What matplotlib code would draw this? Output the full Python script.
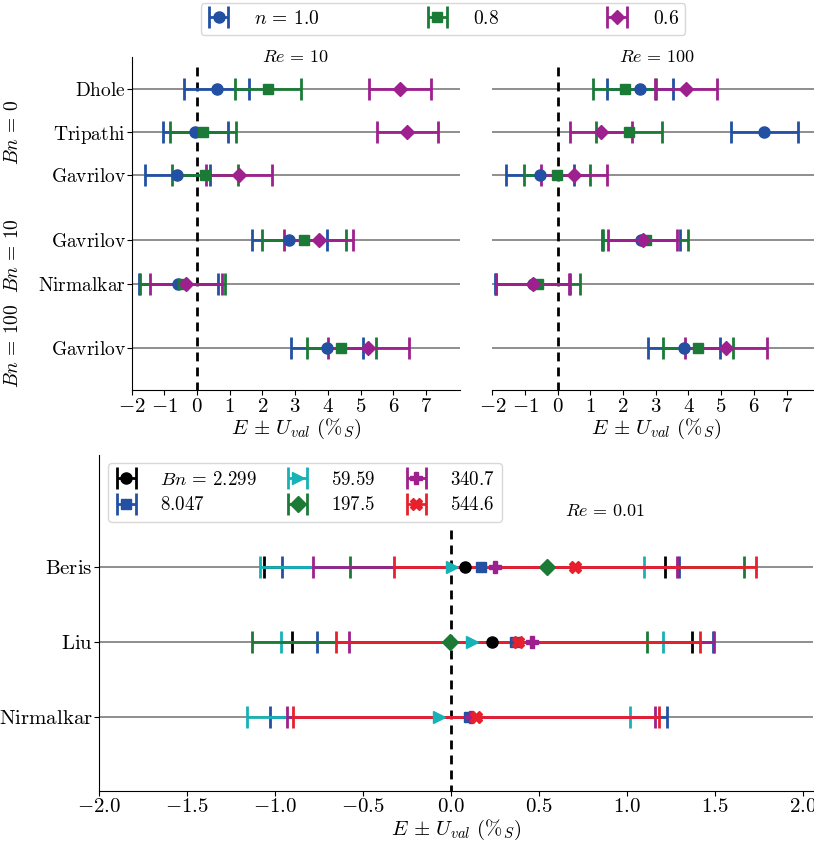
import numpy as np
import matplotlib
matplotlib.use("Agg")
import matplotlib.pyplot as plt
from matplotlib.ticker import FuncFormatter
import matplotlib.transforms as mtrans

plt.rcParams['font.family'] = 'serif'
plt.rcParams['font.serif'] = ['cmr10']
plt.rcParams['mathtext.fontset'] = 'cm'
plt.rcParams['axes.formatter.use_mathtext'] = True
plt.rcParams['axes.unicode_minus'] = True

# ---------------- data: top panels ----------------
top_labels = ['Dhole', 'Tripathi', 'Gavrilov', 'Gavrilov', 'Nirmalkar', 'Gavrilov']
bn_groups = [r'$Bn\,=\,0$', r'$Bn\,=\,10$', r'$Bn\,=\,100$']
n_labels = [r'$n\,=\,1.0$', '$0.8$', '$0.6$']

re10_n10_E = [0.60, -0.05, -0.60, 2.82, -0.57, 3.96]
re10_n10_U = [1.00, 1.00, 1.00, 1.15, 1.21, 1.10]
re10_n08_E = [2.17, 0.18, 0.24, 3.26, -0.44, 4.41]
re10_n08_U = [1.00, 1.01, 1.01, 1.28, 1.30, 1.06]
re10_n06_E = [6.21, 6.43, 1.28, 3.72, -0.33, 5.24]
re10_n06_U = [0.94, 0.94, 1.00, 1.06, 1.10, 1.25]

re100_n10_E = [2.51, 6.32, -0.54, 2.54, -0.77, 3.86]
re100_n10_U = [1.01, 1.02, 1.03, 1.19, 1.16, 1.10]
re100_n08_E = [2.05, 2.17, -0.03, 2.70, -0.60, 4.28]
re100_n08_U = [0.97, 1.01, 1.01, 1.30, 1.28, 1.07]
re100_n06_E = [3.93, 1.32, 0.50, 2.60, -0.77, 5.14]
re100_n06_U = [0.94, 0.94, 1.00, 1.05, 1.13, 1.25]

# ---------------- data: bottom panel ----------------
bot_labels = ['Beris', 'Liu', 'Nirmalkar']
bn_labels = [r'$Bn\,=\,2.299$', '$8.047$', '$59.59$', '$197.5$', '$340.7$', '$544.6$']
bn2299_E = [0.078, 0.234, np.nan]
bn2299_U = [1.138, 1.137, np.nan]
bn8047_E = [0.168, 0.363, 0.100]
bn8047_U = [1.128, 1.124, 1.130]
bn5959_E = [0.005, 0.120, -0.070]
bn5959_U = [1.090, 1.084, 1.089]
bn1975_E = [0.545, -0.008, np.nan]
bn1975_U = [1.120, 1.124, np.nan]
bn3407_E = [0.250, 0.458, 0.112]
bn3407_U = [1.035, 1.037, 1.045]
bn5446_E = [0.705, 0.380, 0.143]
bn5446_U = [1.030, 1.035, 1.039]

# ---------------- styles ----------------
BLUE = '#2350a3'
GREEN = '#1b7a36'
MAG = '#9e1f8e'
CYAN = '#17b2b6'
RED = '#e8202b'
BLACK = '#000000'

top_pos = [0, 1, 2, 3.5, 4.5, 6]
bot_pos = [0, 1, 2]

XLABEL = r'$E\,\pm\,U_{val}\ (\%_S)$'
YLFS = 14.0

fig = plt.figure(figsize=(8.14, 8.42), dpi=100)
W, H = 814.0, 842.0

def px_axes(x0, y0, x1, y1):
    return fig.add_axes([x0 / W, 1 - y1 / H, (x1 - x0) / W, (y1 - y0) / H])

ax1 = px_axes(131.7, 56.7, 460.3, 390)
ax2 = px_axes(492.3, 56.7, 820.9, 390)
ax3 = px_axes(99.0, 455, 813.5, 790.7)

def draw_top(ax, series, title):
    for y in top_pos:
        ax.axhline(y, color='#707070', lw=1.1, zorder=0)
    ax.plot([0, 0], [-0.5, 7.5], color='black', lw=2, dashes=(3.2, 2.2), zorder=1)
    handles = []
    for (E, U, color, marker, ms), lab in zip(series, n_labels):
        h = ax.errorbar(E, top_pos, xerr=U, color=color, ecolor=color,
                        fmt=marker, label=lab, zorder=3,
                        linestyle='none', elinewidth=2.0, capsize=8,
                        capthick=2.0, markersize=ms)
        handles.append(h)
    ax.set_xlim(-2, 8.05)
    ax.set_ylim(6.96, -0.74)
    ax.set_xticks(range(-2, 8))
    ax.xaxis.set_major_formatter(FuncFormatter(lambda v, p: r'$%d$' % v if v >= 0 else r'$-%d$' % (-v)))
    ax.spines['top'].set_visible(False)
    ax.spines['right'].set_visible(False)
    ax.tick_params(labelsize=15, length=3.5, pad=2)
    ax.set_xlabel(XLABEL, fontsize=15, labelpad=1)
    ax.text(0.5, 1.0, title, transform=ax.transAxes, ha='center', va='center',
            fontsize=13)
    return handles

top_style = [(BLUE, 'o', 8), (GREEN, 's', 7.5), (MAG, 'D', 7.5)]
s1 = [(re10_n10_E, re10_n10_U) + top_style[0],
      (re10_n08_E, re10_n08_U) + top_style[1],
      (re10_n06_E, re10_n06_U) + top_style[2]]
s2 = [(re100_n10_E, re100_n10_U) + top_style[0],
      (re100_n08_E, re100_n08_U) + top_style[1],
      (re100_n06_E, re100_n06_U) + top_style[2]]

hs = draw_top(ax1, s1, r'$Re\,=\,10$')
draw_top(ax2, s2, r'$Re\,=\,100$')

ax1.set_yticks(top_pos)
ax1.set_yticklabels([r'$\mathrm{%s}$' % t for t in top_labels], fontsize=YLFS)
ax1.tick_params(axis='y', pad=0.8)
ax2.set_yticks([])
ax2.spines['left'].set_visible(False)

# Bn group labels
tr = mtrans.blended_transform_factory(fig.transFigure, ax1.transData)
for lab, yc in zip(bn_groups, [1.0, 3.85, 5.95]):
    fig.text(13 / W, yc, lab, transform=tr, rotation=90, ha='center',
             va='center', fontsize=14)

fig.legend(hs, n_labels, loc='upper center', ncol=3,
           bbox_to_anchor=(443 / W, 1 - 3 / H),
           fontsize=14, handlelength=1.15, handletextpad=1.25,
           columnspacing=5.5,
           borderaxespad=0, frameon=True, fancybox=True, framealpha=1,
           edgecolor='#d8d8d8', borderpad=0.35)

# ---------------- bottom panel ----------------
for y in bot_pos:
    ax3.axhline(y, color='#707070', lw=1.1, zorder=0)
ax3.plot([0, 0], [-0.5, 3.5], color='black', lw=2, dashes=(3.2, 2.2), zorder=1)

bot_series = [(bn2299_E, bn2299_U, BLACK, 'o', 8),
              (bn8047_E, bn8047_U, BLUE, 's', 7.5),
              (bn5959_E, bn5959_U, CYAN, '>', 8),
              (bn1975_E, bn1975_U, GREEN, 'D', 8),
              (bn3407_E, bn3407_U, MAG, 'P', 8),
              (bn5446_E, bn5446_U, RED, 'X', 8)]
bh = []
for (E, U, color, marker, ms), lab in zip(bot_series, bn_labels):
    E = np.asarray(E, float)
    U = np.asarray(U, float)
    yy = np.asarray(bot_pos, float)
    m = ~np.isnan(E)
    h = ax3.errorbar(E[m], yy[m], xerr=U[m], color=color, ecolor=color,
                     fmt=marker, label=lab, zorder=3, linestyle='none',
                     elinewidth=2.0, capsize=8, capthick=2.0, markersize=ms)
    bh.append(h)

ax3.set_xlim(-2, 2.06)
ax3.set_ylim(2.98, -1.5)
ax3.set_xticks(np.arange(-2, 2.01, 0.5))
ax3.xaxis.set_major_formatter(FuncFormatter(lambda v, p: r'$%.1f$' % v if v >= 0 else r'$-%.1f$' % (-v)))
ax3.set_yticks(bot_pos)
ax3.set_yticklabels([r'$\mathrm{%s}$' % t for t in bot_labels], fontsize=YLFS)
ax3.spines['top'].set_visible(False)
ax3.spines['right'].set_visible(False)
ax3.tick_params(labelsize=15, length=3.5, pad=2)
ax3.tick_params(axis='y', pad=0.8)
ax3.set_xlabel(XLABEL, fontsize=15, labelpad=1)
ax3.text(0.709, 0.833, r'$Re\,=\,0.01$', transform=ax3.transAxes, ha='center',
         va='center', fontsize=13)
ax3.legend(bh, bn_labels, loc='upper left', ncol=3,
           bbox_to_anchor=(108 / W, 1 - 463 / H),
           bbox_transform=fig.transFigure,
           fontsize=13.6, handlelength=1.15, handletextpad=1.2,
           columnspacing=1.6,
           borderaxespad=0, frameon=True, fancybox=True, framealpha=1,
           edgecolor='#d8d8d8', borderpad=0.4, labelspacing=0.4)

fig.savefig('out.png', dpi=100)
